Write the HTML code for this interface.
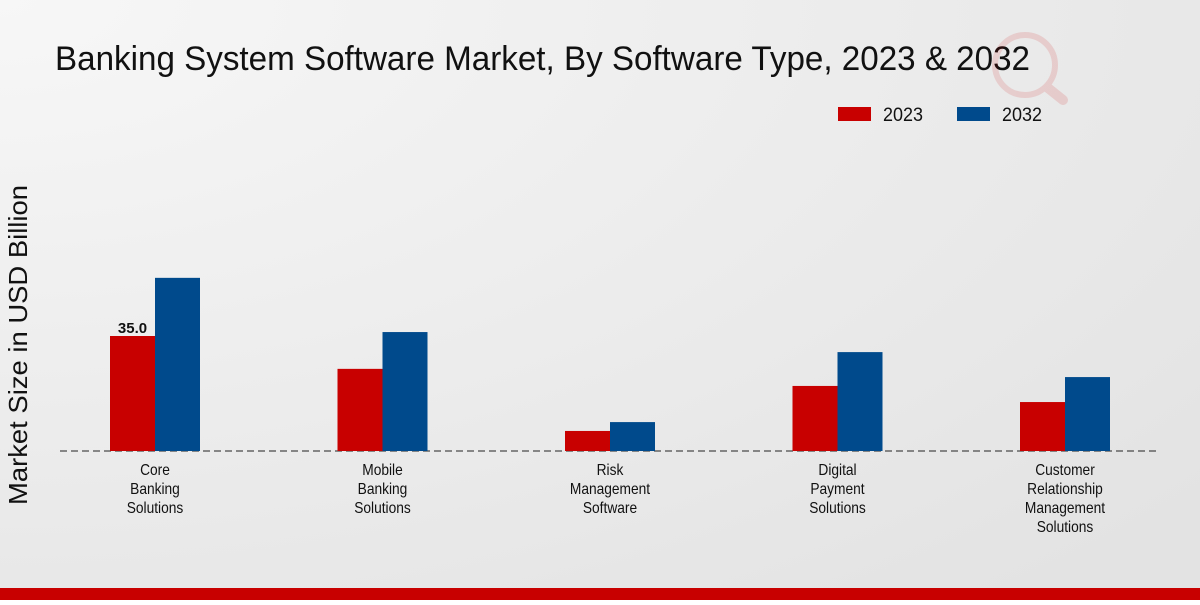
<!DOCTYPE html>
<html><head><meta charset="utf-8"><style>
body{margin:0;width:1200px;height:600px;overflow:hidden;font-family:"Liberation Sans",sans-serif}
</style></head><body>
<svg id="chart" width="1200" height="600" xmlns="http://www.w3.org/2000/svg">
<defs><radialGradient id="bg" cx="0" cy="0" r="1.3"><stop offset="0" stop-color="#f7f7f7"/><stop offset="1" stop-color="#e3e3e3"/></radialGradient></defs>
<rect width="1200" height="600" fill="url(#bg)"/>
<text x="55" y="70" font-size="34" textLength="975" lengthAdjust="spacingAndGlyphs" fill="#111">Banking System Software Market, By Software Type, 2023 &amp; 2032</text>
<g opacity="0.12"><circle cx="1025" cy="65" r="30" fill="none" stroke="#c00" stroke-width="6"/><line x1="1048" y1="88" x2="1063" y2="100" stroke="#c00" stroke-width="10" stroke-linecap="round"/></g>
<g>
<rect x="838" y="107" width="33" height="14" fill="#c80000"/>
<text x="883" y="121" font-size="19" textLength="40" lengthAdjust="spacingAndGlyphs" fill="#111">2023</text>
<rect x="957" y="107" width="33" height="14" fill="#004a8c"/>
<text x="1002" y="121" font-size="19" textLength="40" lengthAdjust="spacingAndGlyphs" fill="#111">2032</text>
</g>
<text transform="translate(27,345) rotate(-90)" text-anchor="middle" font-size="26" textLength="320" lengthAdjust="spacingAndGlyphs" fill="#111">Market Size in USD Billion</text>
<line x1="60" y1="451" x2="1160" y2="451" stroke="#222" stroke-dasharray="7,4"/>
<g id="bars"></g>
<rect x="0" y="588" width="1200" height="12" fill="#c80000"/>
</svg>
<script>
const categories=[["Core","Banking","Solutions"],["Mobile","Banking","Solutions"],["Risk","Management","Software"],["Digital","Payment","Solutions"],["Customer","Relationship","Management","Solutions"]];
const values2023=[35.0,25.0,6.1,19.8,14.9];
const values2032=[52.7,36.2,8.8,30.1,22.5];
const shownLabels=["35.0",null,null,null,null];
const NS="http://www.w3.org/2000/svg";
const g=document.getElementById("bars");
const base=451,scale=115/35;
function y(v){return base-v*scale;}
function cx(i){return 155+i*227.5;}
function mk(t,a){const e=document.createElementNS(NS,t);for(const k in a)e.setAttribute(k,a[k]);g.appendChild(e);return e;}
categories.forEach((c,i)=>{
  const r1=mk("rect",{x:cx(i)-45,y:y(values2023[i]),width:45,height:base-y(values2023[i]),fill:"#c80000"});
  
  
  const r2=mk("rect",{x:cx(i),y:y(values2032[i]),width:45,height:base-y(values2032[i]),fill:"#004a8c"});
  
  
  if(shownLabels[i]){const t=mk("text",{x:cx(i)-22.5,y:y(values2023[i])-3,"text-anchor":"middle","font-size":"15","font-weight":"bold",fill:"#111"});t.textContent=shownLabels[i];
  
  }
  c.forEach((line,j)=>{const t=mk("text",{x:cx(i),y:475+j*19,"text-anchor":"middle","font-size":"16",fill:"#111",transform:`translate(${cx(i)},0) scale(0.86,1) translate(${-cx(i)},0)`});t.textContent=line;
  
  });
});
</script>
</body></html>
